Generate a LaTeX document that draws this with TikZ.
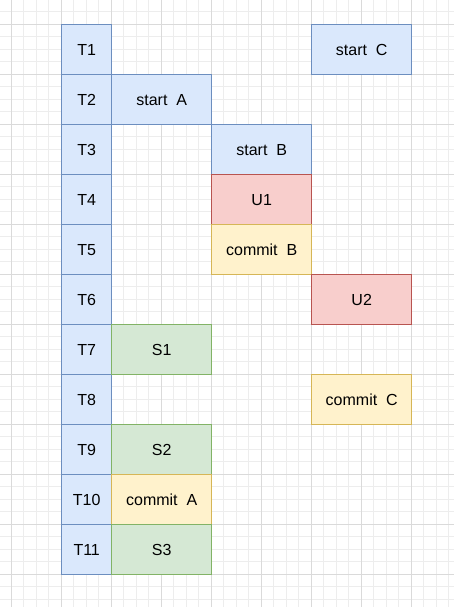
\documentclass[tikz,border=0pt]{standalone}
\usepackage{fontspec}
\setmainfont{Liberation Sans}
\definecolor{bluefill}{HTML}{DAE8FC}
\definecolor{bluedraw}{HTML}{6C8EBF}
\definecolor{redfill}{HTML}{F8CECC}
\definecolor{reddraw}{HTML}{B85450}
\definecolor{yelfill}{HTML}{FFF2CC}
\definecolor{yeldraw}{HTML}{D6B656}
\definecolor{grnfill}{HTML}{D5E8D4}
\definecolor{grndraw}{HTML}{82B366}
\definecolor{gridmajor}{HTML}{DADADA}
\definecolor{gridminor}{HTML}{EDEDED}
\tikzset{
  cell/.style={draw, line width=1.4pt, minimum height=50pt, inner sep=0pt, anchor=north west,
    font=\fontsize{16}{19}\selectfont},
  tcell/.style={cell, fill=bluefill, draw=bluedraw, minimum width=50pt},
  bcell/.style={cell, fill=bluefill, draw=bluedraw, minimum width=100pt},
  rcell/.style={cell, fill=redfill, draw=reddraw, minimum width=100pt},
  ycell/.style={cell, fill=yelfill, draw=yeldraw, minimum width=100pt},
  gcell/.style={cell, fill=grnfill, draw=grndraw, minimum width=100pt},
}
\begin{document}
\begin{tikzpicture}[x=1pt,y=-1pt]
\useasboundingbox (0,0) rectangle (454,607);
\fill[white] (0,0) rectangle (454,607);
% minor grid
\foreach \i in {0,...,35} {
  \draw[gridminor, line width=0.8pt] ({11+12.5*\i},0) -- ({11+12.5*\i},607);
}
\foreach \i in {0,...,48} {
  \draw[gridminor, line width=0.8pt] (0,{11.5+12.5*\i}) -- (454,{11.5+12.5*\i});
}
% major grid
\foreach \i in {0,...,8} {
  \draw[gridmajor, line width=0.8pt] ({11+50*\i},0) -- ({11+50*\i},607);
}
\foreach \i in {0,...,11} {
  \draw[gridmajor, line width=0.8pt] (0,{24+50*\i}) -- (454,{24+50*\i});
}
% time column
\foreach \i in {1,...,11} {
  \node[tcell] (t\i) at (61,{24+50*(\i-1)}) {T\i};
}
\node[bcell] (startC) at (311,24) {start\ \ C};
\node[bcell] (startA) at (111,74) {start\ \ A};
\node[bcell] (startB) at (211,124) {start\ \ B};
\node[rcell] (u1) at (211,174) {U1};
\node[ycell] (commitB) at (211,224) {commit\ \ B};
\node[rcell] (u2) at (311,274) {U2};
\node[gcell] (s1) at (111,324) {S1};
\node[ycell] (commitC) at (311,374) {commit\ \ C};
\node[gcell] (s2) at (111,424) {S2};
\node[ycell] (commitA) at (111,474) {commit\ \ A};
\node[gcell] (s3) at (111,524) {S3};
\end{tikzpicture}
\end{document}
